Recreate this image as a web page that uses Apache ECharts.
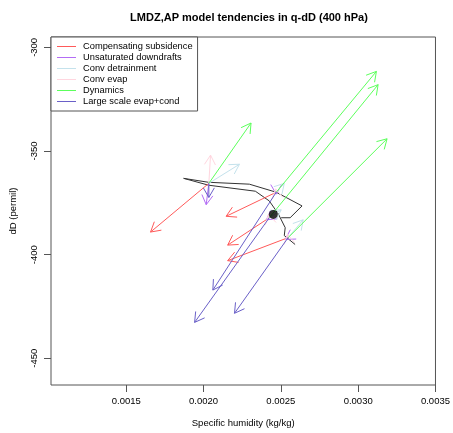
<!DOCTYPE html>
<html>
<head>
<meta charset="utf-8">
<script src="https://cdn.jsdelivr.net/npm/echarts@6/dist/echarts.min.js"></script>
<style>
html,body{margin:0;padding:0;background:#fff;}
#chart{width:453px;height:433px;}
</style>
</head>
<body>
<div id="chart"></div>
<script>
// seasonal trajectory in (q, dD)
var trajQ=[0.002592,0.002522,0.002528,0.002483,0.002425,0.002335,0.002032,0.001871,0.002032,0.002296,0.002470,0.002637,0.002560,0.002502];
var trajD=[-395.1,-390.8,-387.0,-380.3,-374.1,-369.4,-366.5,-363.2,-365.1,-366.0,-369.9,-376.5,-382.2,-382.2];
// mean point
var meanQ=0.002451, meanD=-380.6;
// arrow origins
var originQ=[0.002034,0.002470,0.002425,0.002547];
var originD=[-365.6,-369.9,-382.2,-391.8];
// arrow tips for each process
var compQ=[0.001657,0.002146,0.002156,0.002156];
var compD=[-389.1,-381.5,-395.4,-402.9];
var unsatQ=[0.002017,0.002470,0.002406,0.002528];
var unsatD=[-375.9,-370.8,-383.2,-392.7];
var detrQ=[0.002232,0.002522,0.002502,0.002644];
var detrD=[-356.4,-365.6,-378.4,-383.2];
var evapQ=[0.002045,0.002466,0.002420,0.002543];
var evapD=[-352.0,-368.3,-380.6,-390.2];
var dynQ=[0.002307,0.003118,0.003129,0.003187];
var dynD=[-336.5,-311.6,-318.0,-344.1];
var lsQ=[0.002034,0.002060,0.001942,0.002200];
var lsD=[-372.4,-417.1,-432.7,-428.3];

var names=['Compensating subsidence','Unsaturated downdrafts','Conv detrainment','Conv evap','Dynamics','Large scale evap+cond'];
var colors=['#ff5a5a','#b36cf5','#c4e2ec','#ffd6df','#5cff5c','#6a60c8'];
var tipsQ=[compQ,unsatQ,detrQ,evapQ,dynQ,lsQ];
var tipsD=[compD,unsatD,detrD,evapD,dynD,lsD];

function arrowItem(params,api){
  var p0=api.coord([api.value(0),api.value(1)]);
  var p1=api.coord([api.value(2),api.value(3)]);
  var a=Math.atan2(p1[1]-p0[1],p1[0]-p0[0]);
  var L=11, w=Math.PI/6;
  var h1=[p1[0]-L*Math.cos(a-w),p1[1]-L*Math.sin(a-w)];
  var h2=[p1[0]-L*Math.cos(a+w),p1[1]-L*Math.sin(a+w)];
  var st={stroke:api.visual('color'),lineWidth:1,fill:null};
  return {type:'group',children:[
    {type:'line',shape:{x1:p0[0],y1:p0[1],x2:p1[0],y2:p1[1]},style:st},
    {type:'polyline',shape:{points:[h1,p1,h2]},style:st}
  ]};
}

var series=[];
for(var k=0;k<names.length;k++){
  var d=[];
  for(var i=0;i<originQ.length;i++)d.push([originQ[i],originD[i],tipsQ[k][i],tipsD[k][i]]);
  series.push({type:'custom',name:names[k],renderItem:arrowItem,data:d,
    encode:{x:[0,2],y:[1,3]},itemStyle:{color:colors[k],borderColor:colors[k]},silent:true,z:5});
}
var traj=[];
for(var j=0;j<trajQ.length;j++)traj.push([trajQ[j],trajD[j]]);
series.push({type:'line',data:traj,symbol:'none',lineStyle:{color:'#333',width:1},silent:true,z:4});
series.push({type:'scatter',data:[[meanQ,meanD]],symbolSize:9,itemStyle:{color:'#000'},silent:true,z:6});

var legendData=[];
for(var n=0;n<names.length;n++)legendData.push({name:names[n],icon:'rect',
  itemStyle:{color:colors[n],borderColor:colors[n],borderWidth:0,opacity:1}});

var font='Liberation Sans';
var chart=echarts.init(document.getElementById('chart'));
chart.setOption({
  animation:false,
  backgroundColor:'#fff',
  title:{text:'LMDZ,AP model tendencies in q-dD (400 hPa)',left:244,top:7,textAlign:'center',
    textStyle:{fontFamily:font,fontSize:11,fontWeight:'bold',color:'#000'}},
  legend:{left:51,top:37,orient:'vertical',itemGap:0,itemWidth:19,itemHeight:1,
    padding:[4,5,4,6],borderColor:'#555',borderWidth:1,backgroundColor:'#fff',
    selectedMode:false,data:legendData,
    textStyle:{fontFamily:font,fontSize:9.3,lineHeight:11,color:'#000',padding:[0,0,0,2]}},
  grid:{left:51,top:37,width:386,height:352,show:true,borderColor:'#555',borderWidth:1,containLabel:false},
  xAxis:{type:'value',min:0.001013,max:0.0035,
    name:'Specific humidity (kg/kg)',nameLocation:'middle',nameGap:33,
    nameTextStyle:{fontFamily:font,fontSize:9.5,color:'#000'},
    axisLine:{show:false},splitLine:{show:false},
    axisTick:{show:true,length:7,lineStyle:{color:'#555'},customValues:[0.0015,0.002,0.0025,0.003,0.0035]},
    axisLabel:{fontFamily:font,fontSize:9.5,color:'#000',margin:11,
      customValues:[0.0015,0.002,0.0025,0.003,0.0035],formatter:function(v){return v.toFixed(4);}}},
  yAxis:{type:'value',min:-462.9,max:-295,
    name:'dD (permil)',nameLocation:'middle',nameGap:33,
    nameTextStyle:{fontFamily:font,fontSize:9.5,color:'#000'},
    axisLine:{show:false},splitLine:{show:false},
    axisTick:{show:true,length:7,lineStyle:{color:'#555'},customValues:[-450,-400,-350,-300]},
    axisLabel:{fontFamily:font,fontSize:9.5,color:'#000',rotate:90,margin:12,
      customValues:[-450,-400,-350,-300]}},
  series:series
});
</script>
</body>
</html>
